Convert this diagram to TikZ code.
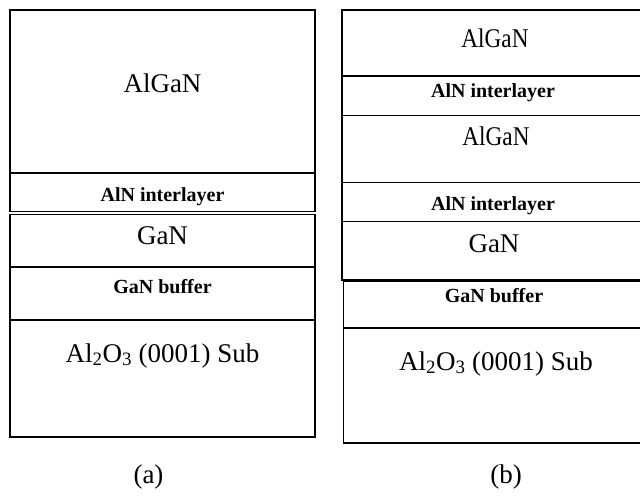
\documentclass[tikz,border=0pt]{standalone}
\usepackage{fontspec}
\setmainfont{Liberation Serif}
\begin{document}
\begin{tikzpicture}[x=1pt,y=-1pt,
  layer/.style={draw=black,line width=1.6pt},
  big/.style={font=\fontsize{27}{30}\selectfont, inner sep=0pt, anchor=base},
  small/.style={font=\bfseries\fontsize{20}{24}\selectfont, inner sep=0pt, anchor=base}]
\useasboundingbox (0,0) rectangle (640,497);
\clip (0,0) rectangle (640,497);
% panel (a)
\draw[layer] (10,10) rectangle (315,173);
\draw[layer] (10,173) rectangle (315,211.5);
\draw[layer] (10,214.5) rectangle (315,267);
\draw[layer] (10,267) rectangle (315,320);
\draw[layer] (10,320) rectangle (315,437);
\node[big] (a1) at (162.5,92.5) {AlGaN};
\node[small] (a2) at (162.5,202) {AlN interlayer};
\node[big] (a3) at (162.5,245) {GaN};
\node[small] (a4) at (162.5,294) {GaN buffer};
\node[big] (a5) at (162.5,362) {Al\textsubscript{2}O\textsubscript{3} (0001) Sub};
\node[big] (la) at (148.5,483) {(a)};
% panel (b)
\draw[layer] (342,10) rectangle (648,76);
\draw[layer] (342,76) rectangle (648,115.5);
\draw[layer] (342,115.5) rectangle (648,182.5);
\draw[layer] (342,182.5) rectangle (648,221.5);
\draw[layer] (342,221.5) rectangle (648,280);
\draw[layer] (343.3,281.5) rectangle (648,327.7);
\draw[layer] (343.3,327.7) rectangle (648,442.7);
\node[big] (b1) at (495,47.3) {\scalebox{0.86}[1]{AlGaN}};
\node[small] (b2) at (493,98) {AlN interlayer};
\node[big] (b3) at (496,146) {\scalebox{0.86}[1]{AlGaN}};
\node[small] (b4) at (493,211) {AlN interlayer};
\node[big] (b5) at (494,252) {GaN};
\node[small] (b6) at (494,302) {GaN buffer};
\node[big] (b7) at (496,370) {Al\textsubscript{2}O\textsubscript{3} (0001) Sub};
\node[big] (lb) at (506,483) {(b)};
\end{tikzpicture}
\end{document}
